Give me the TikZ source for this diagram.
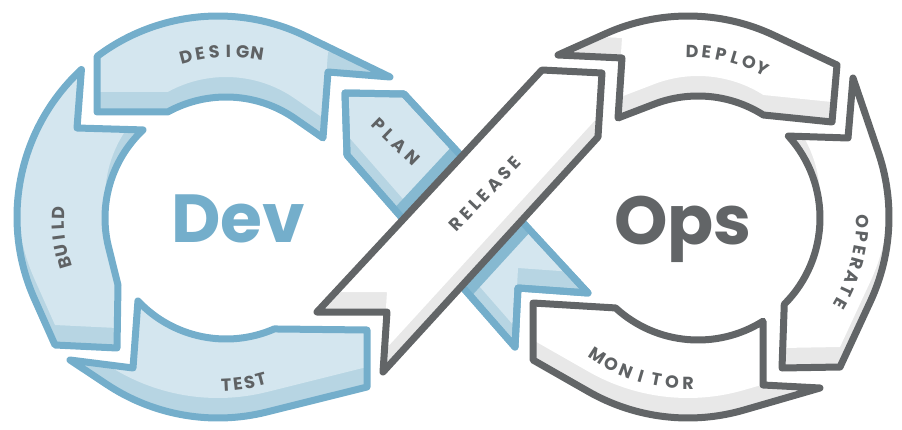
\documentclass[tikz,border=0pt]{standalone}
\usepackage{fontspec}
\setmainfont{Poppins}
\usepackage{xcolor}
\usepackage{tikz}
\usetikzlibrary{calc}

\definecolor{devline}{HTML}{74AECB}
\definecolor{devface}{HTML}{D4E6EF}
\definecolor{devside}{HTML}{B7D5E3}
\definecolor{devshade}{HTML}{86B9D1}
\definecolor{opsline}{HTML}{626567}
\definecolor{opsside}{HTML}{E8E8E8}
\definecolor{labelgrey}{HTML}{5F6264}

\newcommand{\labelfont}{\fontsize{17.5}{18}\selectfont\bfseries}
\newcommand{\bigfont}{\fontsize{68}{70}\selectfont\bfseries}

% ring pieces (Dev loop centre 218,212 / Ops loop centre 688,212)
\newcommand{\designpath}{(97,317) -- ([shift={(218,212)}]127.0:201) arc[start angle=127.0, end angle=64.1, radius=201] -- (390,352) -- (328,357) -- (323,291) -- ([shift={(226,211)}]55.2:121) arc[start angle=55.2, end angle=118.8, radius=121] -- cycle}
\newcommand{\buildpath}{([shift={(218,212)}]132.8:201) arc[start angle=132.8, end angle=204.0, radius=201] -- (55,84) -- (117,81) -- (118,144) -- ([shift={(226,211)}]194.0:121) arc[start angle=194.0, end angle=133.3, radius=121] -- (77,301) -- cycle}
\newcommand{\testpath}{(70,69) -- ([shift={(218,212)}]236.4:201) arc[start angle=236.4, end angle=284.0, radius=201] -- (367,42) -- (367,99) -- ([shift={(226,211)}]293.5:121) arc[start angle=293.5, end angle=223.3, radius=121] -- (133,61) -- cycle}
\newcommand{\planpath}{(345,336) -- (404,335) -- (588,136) -- (518,141) -- (515,82) -- (347,274) -- cycle}
\newcommand{\releasepath}{(317,117) -- (387,117) -- (383,57) -- (598,292) -- (602,356) -- (542,359) -- cycle}
\newcommand{\deploypath}{(558,374) -- ([shift={(688,212)}]114.1:201) arc[start angle=114.1, end angle=64.8, radius=201] -- (837,364) -- (832,307) -- ([shift={(698,211)}]57.6:122) arc[start angle=57.6, end angle=111.0, radius=122] -- (618,311) -- (622,371) -- cycle}
\newcommand{\operatepath}{(853,351) -- ([shift={(688,212)}]18.8:201) arc[start angle=18.8, end angle=-24.9, radius=201] -- (840,62) -- (782,61) -- ([shift={(698,211)}]-45:122) arc[start angle=-45, end angle=42.2, radius=122] -- (848,291) -- cycle}
\newcommand{\monitorpath}{(820,41) -- ([shift={(688,212)}]-73.8:201) arc[start angle=-73.8, end angle=-119.7, radius=201] -- (533,69) -- (533,126) -- ([shift={(698,211)}]-132.5:122) arc[start angle=-132.5, end angle=-57.8, radius=122] -- (763,44) -- cycle}

% #1 path, #2 face, #3 side, #4 outline
\newcommand{\shadedseg}[4]{%
  \fill[#3] #1;
  \begin{scope}
    \clip #1;
    \fill[#2, yshift=20pt] #1;
  \end{scope}
  \draw[#4, line width=7pt, line join=round] #1;
}

\begin{document}
\begin{tikzpicture}[x=1pt, y=1pt]
    \useasboundingbox (0,0) rectangle (902,429);

    %Dev ring
    \shadedseg{\designpath}{devface}{devside}{devline}
    \shadedseg{\buildpath}{devface}{devside}{devline}
    \shadedseg{\testpath}{devface}{devside}{devline}

    %Plan ribbon, darker where release lies on it
    \shadedseg{\planpath}{devface}{devside}{devline}
    \begin{scope}
      \clip \planpath;
      \filldraw[devshade, line width=28pt, line join=round] \releasepath;
    \end{scope}
    \draw[devline, line width=7pt, line join=round] \planpath;

    %Ops ring
    \shadedseg{\deploypath}{white}{opsside}{opsline}
    \shadedseg{\operatepath}{white}{opsside}{opsline}
    \shadedseg{\monitorpath}{white}{opsside}{opsline}

    %Release ribbon
    \shadedseg{\releasepath}{white}{opsside}{opsline}

    % Labels
    \begin{scope}[every node/.style={font=\labelfont, text=labelgrey, inner sep=0pt}]
    \foreach \ch [count=\i from 0] in {D,E,S,I,G,N} {
      \pgfmathsetmacro{\ang}{92.9+(2.5-\i)*4.8}
      \node[rotate=\ang-90] (design-\i) at ([shift={(230,207)}]\ang:171) {\ch};
    }
    \foreach \ch [count=\i from 0] in {B,U,I,L,D} {
      \pgfmathsetmacro{\ang}{187.5+(2-\i)*4.5}
      \node[rotate=\ang-90] (build-\i) at ([shift={(218,212)}]\ang:160) {\ch};
    }
    \foreach \ch [count=\i from 0] in {T,E,S,T} {
      \pgfmathsetmacro{\ang}{-81.2-(1.5-\i)*4.0}
      \node[rotate=\ang+90] (test-\i) at ([shift={(218,212)}]\ang:168) {\ch};
    }
    \foreach \ch [count=\i from 0] in {D,E,P,L,O,Y} {
      \pgfmathsetmacro{\ang}{76.0+(2.5-\i)*5.04}
      \node[rotate=\ang-90] (deploy-\i) at ([shift={(688,212)}]\ang:166) {\ch};
    }
    \foreach \ch [count=\i from 0] in {O,P,E,R,A,T,E} {
      \pgfmathsetmacro{\ang}{-15.6+(3-\i)*4.65}
      \node[rotate=\ang-90] (operate-\i) at ([shift={(688,212)}]\ang:175) {\ch};
    }
    \foreach \ch [count=\i from 0] in {M,O,N,I,T,O,R} {
      \pgfmathsetmacro{\ang}{-106.5-(3-\i)*5.5}
      \node[rotate=\ang+90] (monitor-\i) at ([shift={(688,212)}]\ang:166) {\ch};
    }
    \node[rotate=-44] (plan) at (396,287) {\addfontfeatures{LetterSpace=26}PLAN};
    \node[rotate=46] (release) at (485,235) {\addfontfeatures{LetterSpace=22}RELEASE};
    \end{scope}

    % Centre words
    \node[font=\bigfont, text=devline, anchor=base, inner sep=0pt] (dev) at (238,186) {Dev};
    \node[font=\bigfont, text=opsline, anchor=base, inner sep=0pt] (ops) at (683,185) {Ops};
\end{tikzpicture}
\end{document}
